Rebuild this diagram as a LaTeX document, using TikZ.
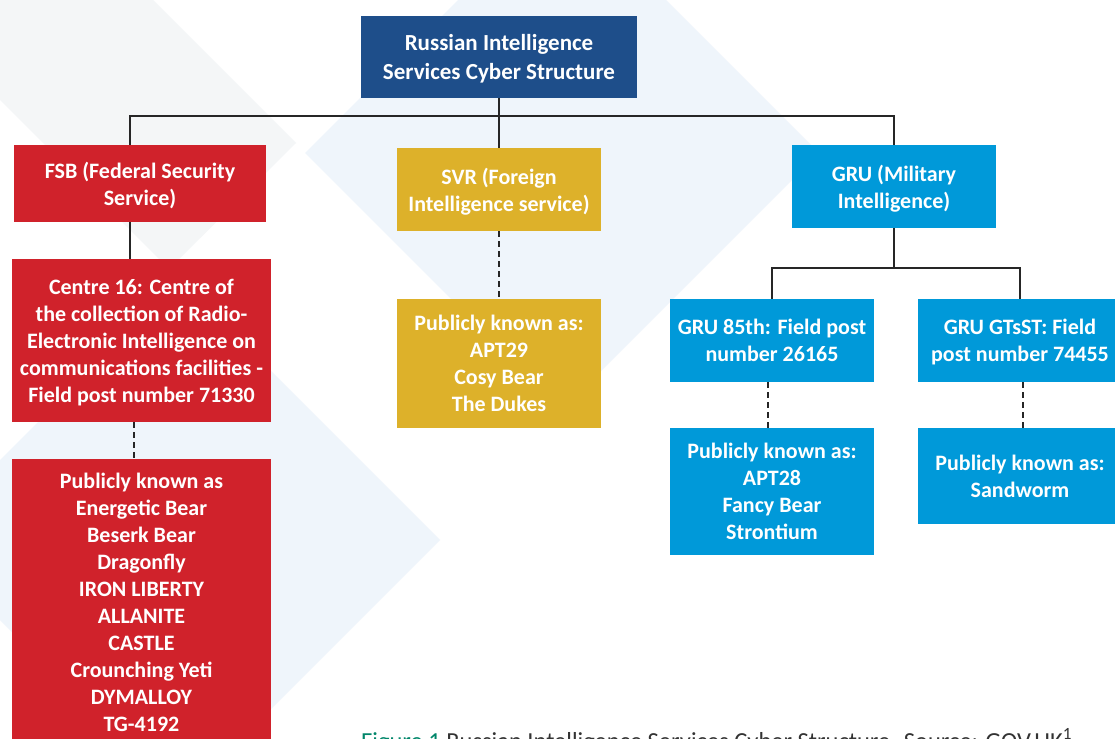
\documentclass[tikz,border=0pt]{standalone}
\usepackage{fontspec}
\setmainfont{Carlito}

\definecolor{rusblue}{HTML}{1E4E8A}
\definecolor{fsbred}{HTML}{D0222B}
\definecolor{svrgold}{HTML}{DDB12A}
\definecolor{grucyan}{HTML}{0099D9}
\definecolor{linegray}{HTML}{262626}
\definecolor{bggray}{HTML}{F4F6F7}
\definecolor{bgblue}{HTML}{EFF5FB}
\definecolor{capgreen}{HTML}{00866A}
\definecolor{capgray}{HTML}{333333}

\begin{document}
\begin{tikzpicture}[x=1pt, y=-1pt,
    every node/.style={font=\fontsize{22}{27}\selectfont\bfseries, text=white, align=center, inner sep=0pt},
    box/.style={rectangle, minimum width=\boxW pt, minimum height=83pt, text depth=0pt},
    link/.style={draw=linegray, line width=2pt},
    dashlink/.style={link, dash pattern=on 6pt off 4pt}]
    % Define coordinates
    \def\boxW{204}
    \coordinate (busL) at (130,116);
    \coordinate (busR) at (894,116);
    \coordinate (subL) at (772,268);
    \coordinate (subR) at (1020,268);

    % Page and background diamonds
    \useasboundingbox (0,0) rectangle (1115,738);
    \fill[white] (0,0) rectangle (1115,738);
    \fill[bggray] (0,0) -- (153,0) -- (296,143) -- (169,269) -- (0,100) -- cycle;
    \fill[bgblue] (562,-104) -- (819,153) -- (562,410) -- (305,153) -- cycle;
    \fill[bgblue] (180,280) -- (440,540) -- (180,800) -- (-80,540) -- cycle;

    % Top
    \node[box, fill=rusblue, minimum width=276pt, minimum height=82pt,
      font=\fontsize{23}{29}\selectfont\bfseries] (rusis) at (499,57) {Russian Intelligence\\Services Cyber Structure};

    % Services
    \node[box, fill=fsbred, minimum width=252pt, minimum height=77pt] (fsb) at (140,183.5) {FSB (Federal Security\\Service)};
    \node[box, fill=svrgold] (svr) at (499,189.5) {SVR (Foreign\\Intelligence service)};
    \node[box, fill=grucyan] (gru) at (894,186.5) {GRU (Military\\Intelligence)};

    % FSB column
    \node[box, fill=fsbred, minimum width=259pt, minimum height=163pt] (ctr16) at (141.5,340.5) {Centre 16: Centre of\\the collection of Radio-\\Electronic Intelligence on\\communications facilities -\\Field post number 71330};
    \node[box, fill=fsbred, minimum width=259pt, minimum height=287pt, anchor=north, text depth=-4pt] (fsbpub) at (141.5,459) {Publicly known as\\Energetic Bear\\Beserk Bear\\Dragonfly\\IRON LIBERTY\\ALLANITE\\CASTLE\\Crounching Yeti\\DYMALLOY\\TG-4192};

    % SVR column
    \node[box, fill=svrgold, minimum height=129pt, text depth=-2pt] (svrpub) at (499,363.5) {Publicly known as:\\APT29\\Cosy Bear\\The Dukes};

    % GRU units
    \node[box, fill=grucyan] (gru85) at (772,340.5) {GRU 85th: Field post\\number 26165};
    \node[box, fill=grucyan] (gtsst) at (1020,340.5) {GRU GTsST: Field\\post number 74455};
    \node[box, fill=grucyan, minimum height=127pt, text depth=-2pt] (apt28) at (772,491.5) {Publicly known as:\\APT28\\Fancy Bear\\Strontium};
    \node[box, fill=grucyan, minimum height=96pt, text depth=-4pt] (sandw) at (1020,476) {Publicly known as:\\Sandworm};

    % Connectors
    \draw[link] (rusis.south) -- (svr.north);
    \draw[link] (fsb.north -| busL) -- (busL) -- (busR) -- (gru.north);
    \draw[link] (fsb.south -| busL) -- (ctr16.north -| busL);
    \draw[link] (gru.south) -- (gru.south |- subL);
    \draw[link] (gru85.north) -- (subL) -- (subR) -- (gtsst.north);
    \draw[dashlink] ([xshift=-7.5pt]ctr16.south) -- ([xshift=-7.5pt]fsbpub.north);
    \draw[dashlink] (svr.south) -- (svrpub.north);
    \draw[dashlink] ([xshift=-4pt]gru85.south) -- ([xshift=-4pt]apt28.north);
    \draw[dashlink] ([xshift=3pt]gtsst.south) -- ([xshift=3pt]sandw.north);

    % Caption
    \node[font=\fontsize{24.5}{28}\selectfont, text=capgray, anchor=base west] (caption) at (361,749) {\textcolor{capgreen}{Figure 1} Russian Intelligence Services Cyber Structure. Source: GOV.UK\textsuperscript{1}};
  \end{tikzpicture}
\end{document}
